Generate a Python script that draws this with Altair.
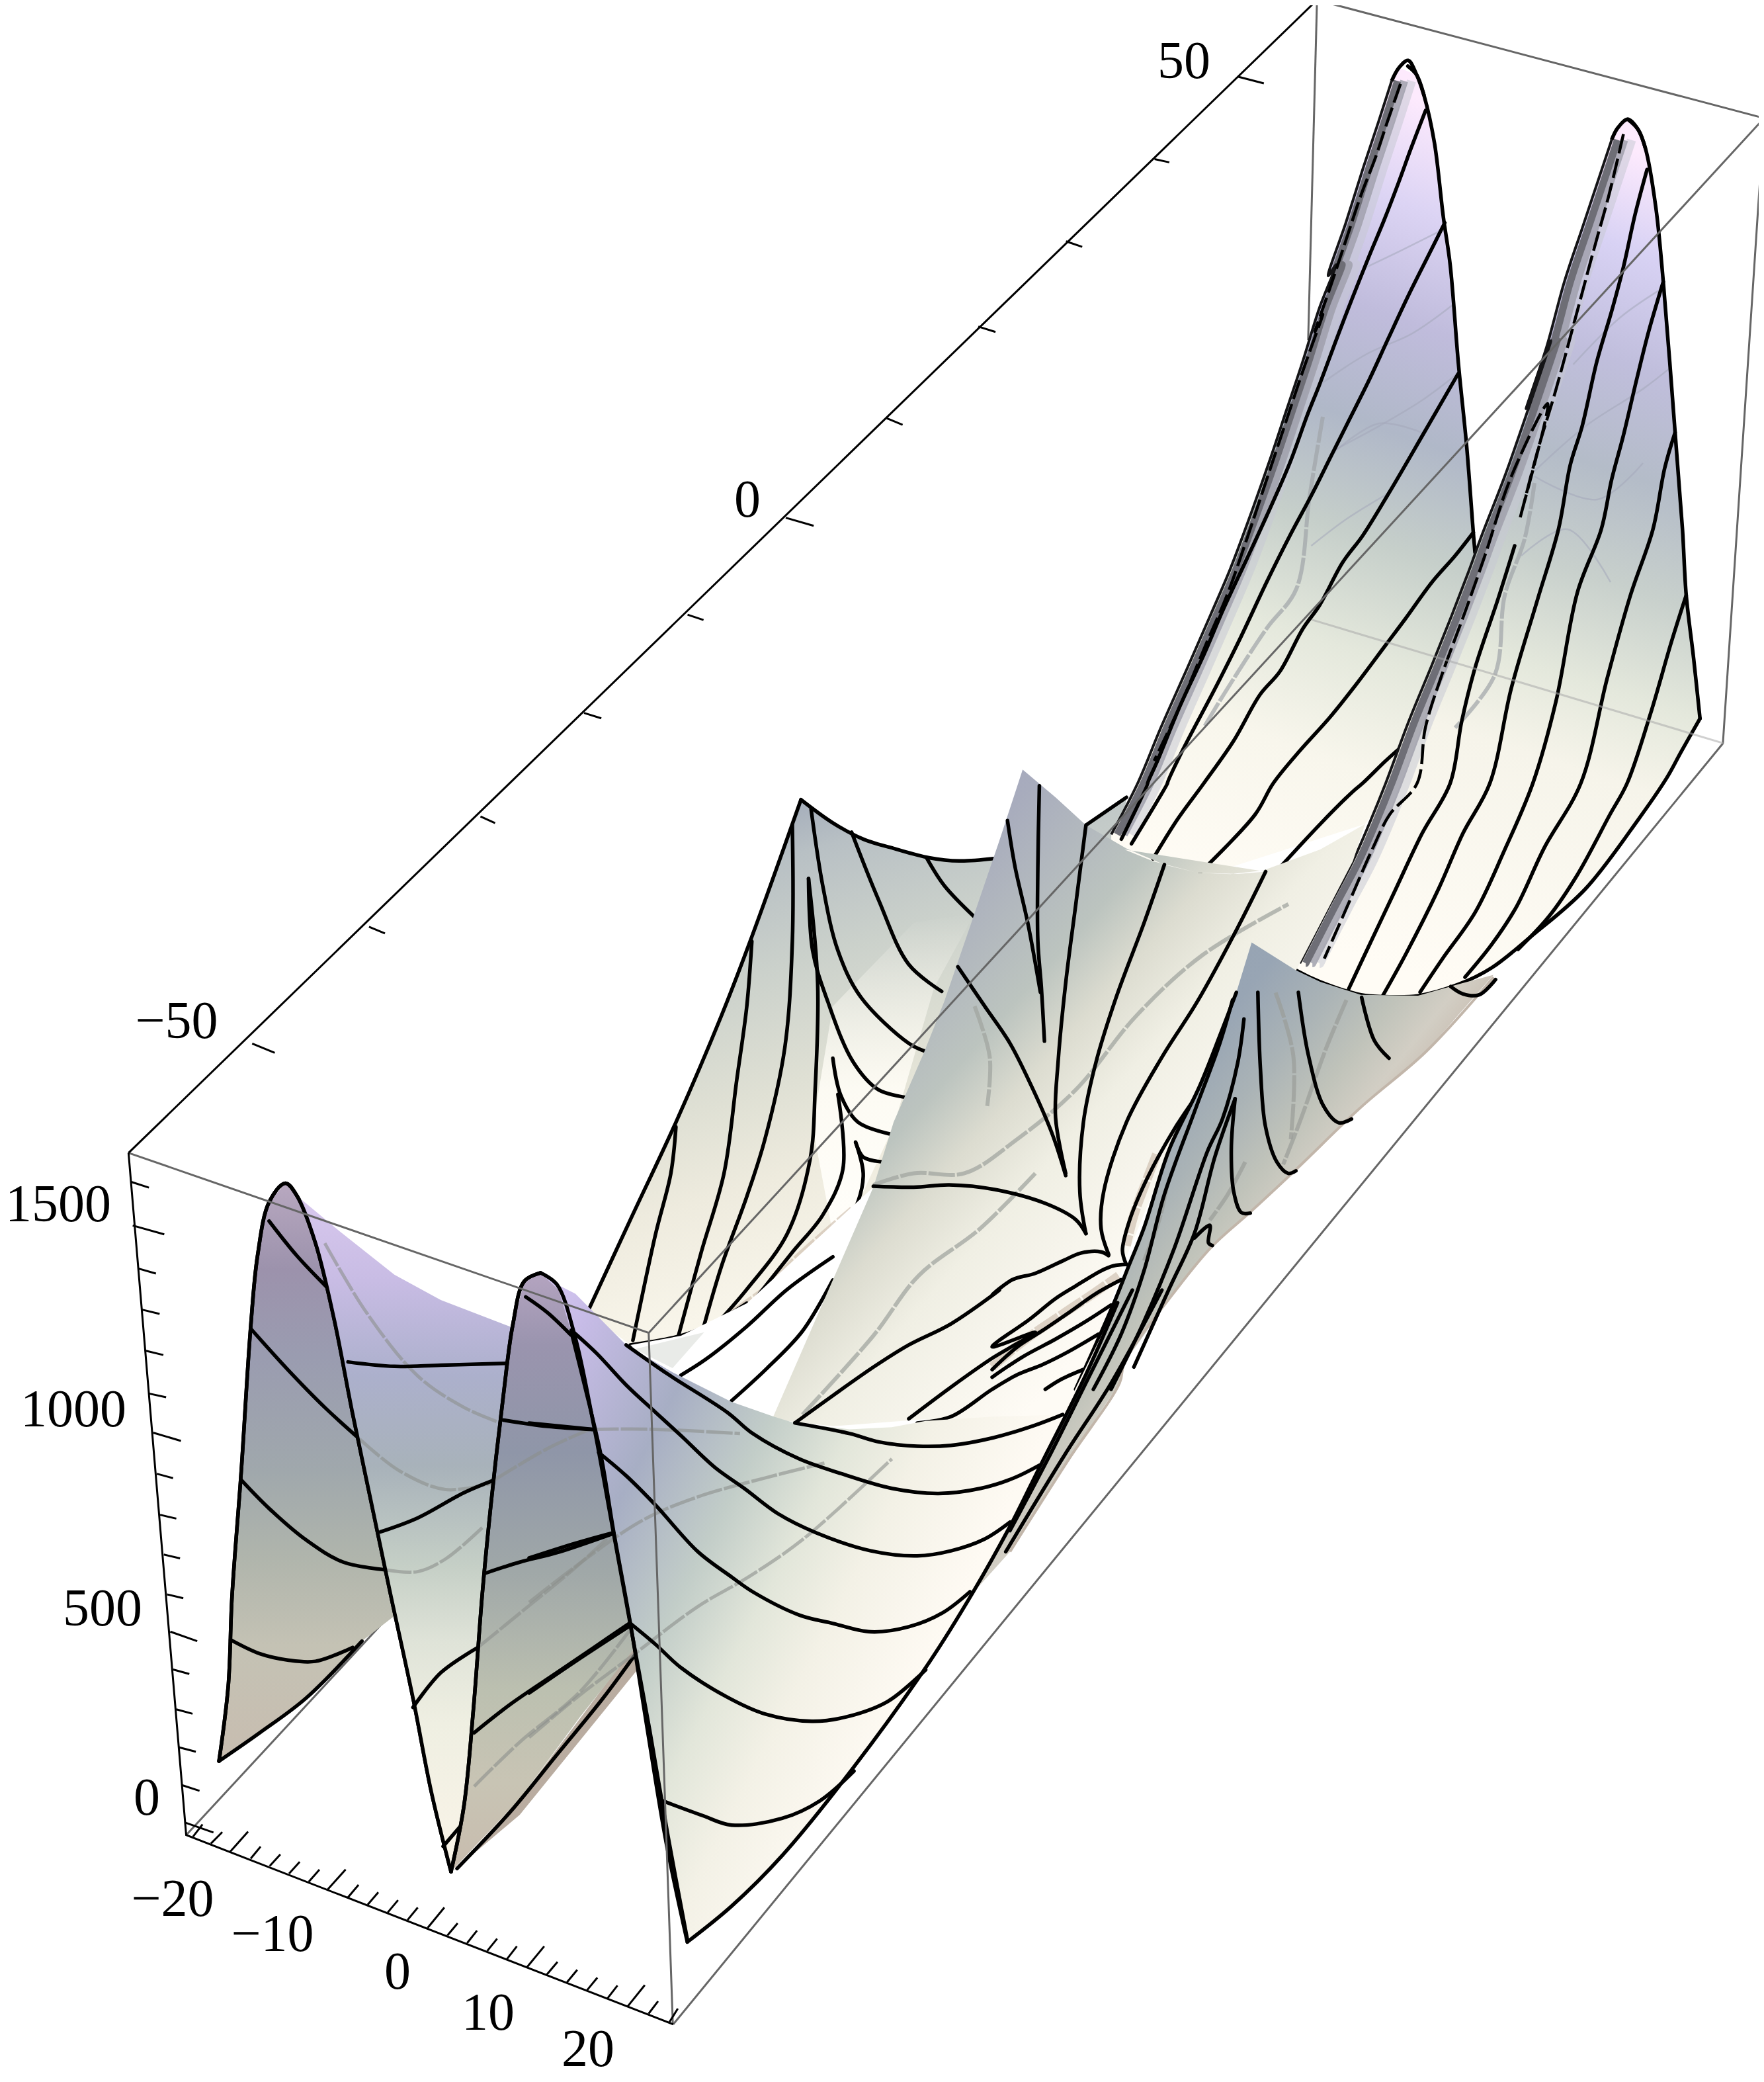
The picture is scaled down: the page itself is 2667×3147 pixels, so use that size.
import altair as alt

# crop windows the values were read in: x0, y0, w, h (each crop seen as 1568 x 1568)
CROPS = {
    "t": (0, 0, 3146.7, 3146.7),
    "z1": (0, 1650, 1100, 1497),
    "z2": (1500, 0, 1167, 1300),
    "z3": (800, 1100, 1200, 1100),
    "z4": (1700, 1000, 967, 1100),
    "z5": (200, 2600, 900, 547),
    "z6": (800, 1950, 1000, 1000),
    "z8": (1500, 1500, 600, 600),
    "za": (1700, 400, 784, 784),
    "zb": (1950, 100, 700, 700),
}


def P(*parts):
    out = []
    for crop, pts in parts:
        x0, y0, w, h = CROPS[crop]
        out += [(x0 + a * w / 1568, y0 + b * h / 1568) for a, b in pts]
    return out


# ---- tick labels
label_text = ["50", "0", "\u221250", "1500", "1000", "500", "0", "\u221220", "\u221210", "0", "10", "20"]
label_x = [1790, 1130, 267, 88, 111, 155, 222, 261, 412, 601, 738, 889]
label_y = [94, 757, 1545, 1822, 2132, 2433, 2719, 2872, 2925, 2982, 3044, 3099]

# ---- box
box_gray = [
    P(("z5", [(142, 498)]), ("t", [(988, 467)])),
    P(("z2", [(660, 0), (642, 620)])),
    P(("t", [(992, 0), (1329, 89), (1298, 560)])),
    P(("z5", [(1425, 1318)]), ("t", [(1298, 560)])),
]
box_front = [
    P(("z1", [(277, 97), (1398, 382), (1450, 1475)])),
    P(("z1", [(1398, 382)]), ("t", [(1329, 89)])),
]
box_faint = [P(("z2", [(650, 1130), (1485, 1355)]))]
axes_black = [
    P(("z1", [(277, 97)]), ("z2", [(660, 0)])),
    P(("z1", [(277, 97)]), ("z5", [(142, 498), (1425, 1318)])),
]
ticks_y = [
    ("z2", [(500, 140), (552, 152)]), ("z2", [(330, 290), (360, 296)]), ("z2", [(150, 440), (183, 450)]),
    ("t", [(737, 246), (750, 250)]), ("t", [(668, 315), (680, 320)]), ("t", [(592, 390), (613, 396)]),
    ("t", [(518, 463), (530, 467)]), ("t", [(440, 537), (453, 541)]), ("t", [(362, 615), (373, 620)]),
    ("t", [(278, 698), (290, 703)]), ("t", [(190, 786), (207, 793)]),
]
ticks_z = [
    [(283, 143), (321, 152)], [(286, 212), (354, 226)], [(298, 280), (336, 288)], [(305, 345), (344, 352)],
    [(313, 410), (352, 417)], [(321, 478), (358, 484)], [(330, 540), (390, 553)], [(338, 605), (373, 612)],
    [(345, 670), (380, 676)], [(353, 733), (388, 739)], [(360, 796), (395, 802)], [(367, 855), (425, 870)],
    [(373, 915), (408, 922)], [(380, 978), (415, 985)], [(385, 1038), (422, 1045)], [(392, 1098), (430, 1107)],
    [(398, 1157), (460, 1173)],
]
ticks_x = [
    [(160, 505), (185, 452)], [(207, 535), (237, 485)], [(258, 570), (305, 483)], [(312, 600), (338, 548)],
    [(362, 632), (390, 582)], [(413, 665), (441, 614)], [(465, 700), (493, 648)], [(515, 733), (562, 647)],
    [(568, 768), (596, 714)], [(620, 800), (648, 746)], [(673, 833), (700, 780)], [(725, 866), (752, 812)],
    [(778, 900), (822, 812)], [(830, 933), (857, 880)], [(882, 966), (908, 912)], [(935, 1000), (961, 947)],
    [(987, 1035), (1013, 980)], [(1040, 1070), (1085, 980)], [(1092, 1102), (1120, 1048)], [(1145, 1136), (1172, 1082)],
    [(1198, 1170), (1225, 1116)], [(1252, 1205), (1278, 1150)], [(1305, 1240), (1350, 1148)], [(1360, 1272), (1385, 1218)],
    [(1415, 1308), (1437, 1250)],
]
all_ticks = [P(t) for t in ticks_y] + [P(("z1", t)) for t in ticks_z] + [P(("z5", t)) for t in ticks_x]

# ---- ridge crests
crest_A = P(("zb", [(345, 50), (300, 190), (250, 340), (190, 530), (130, 710)]),
            ("za", [(640, 0), (590, 130), (540, 290), (490, 440), (440, 590), (380, 760), (320, 920), (260, 1060),
                    (190, 1220), (110, 1400), (40, 1568)]),
            ("z3", [(1150, 230)]))
crest_B = P(("zb", [(1090, 250), (1040, 400), (990, 550), (930, 730), (870, 950), (800, 1160)]),
            ("za", [(1290, 230), (1220, 440), (1150, 640), (1080, 820), (1040, 930), (990, 1060), (930, 1210),
                    (860, 1380), (790, 1568)]),
            ("z4", [(600, 350), (560, 430), (500, 530), (430, 650)]))
cap_A = P(("zb", [(345, 50), (370, 5)]), ("z2", [(845, 110)]), ("zb", [(430, 30), (455, 100)]))
cap_B = P(("zb", [(1090, 250), (1110, 210), (1145, 180), (1180, 215), (1205, 280)]))

# ---- surface patches
poly_C = P(("z3", [(537, 155), (600, 205), (660, 240), (720, 260), (790, 280), (850, 287), (918, 282), (1000, 265),
                   (1100, 210), (1180, 150), (1150, 400), (1000, 600), (800, 900), (640, 1030), (540, 1140), (430, 1240),
                   (370, 1280), (300, 1310), (200, 1330), (115, 1260), (200, 1060), (290, 850), (380, 620), (440, 450)]))
poly_C_light = P(("z3", [(880, 400), (800, 560), (720, 860), (660, 1000), (600, 1090), (560, 860), (600, 600), (760, 420)]))
poly_floor = P(("z3", [(200, 1330), (300, 1310), (430, 1240), (640, 1030), (680, 990), (600, 1190), (480, 1490), (300, 1420)]))
poly_A = crest_A + P(("z3", [(1150, 400)]),
                     ("z4", [(200, 460), (590, 350), (800, 100)]),
                     ("za", [(1060, 870), (1055, 810), (1035, 550), (1010, 300), (985, 0)]),
                     ("zb", [(520, 510), (490, 260), (455, 100), (430, 30), (370, 5)]))
poly_B = crest_B + P(("z4", [(420, 665), (480, 690), (580, 718), (640, 722), (720, 720), (820, 695), (900, 660), (1000, 590),
                             (1130, 490), (1260, 340), (1330, 250), (1410, 125)]),
                     ("z2", [(1425, 1200), (1410, 1085), (1390, 800), (1375, 640), (1365, 520), (1350, 400), (1333, 310), (1320, 245)]),
                     ("zb", [(1180, 215), (1145, 180), (1110, 210)]))
poly_D = P(("z3", [(975, 90), (1040, 150), (1100, 210), (1180, 260), (1255, 295), (1320, 312), (1400, 315), (1455, 310)]),
           ("z4", [(0, 405), (70, 430), (180, 455), (260, 458), (340, 450), (480, 405), (590, 350), (560, 430), (430, 650),
                   (280, 900), (170, 930)]),
           ("z3", [(1180, 1140), (1100, 1390), (1040, 1520), (780, 1490), (600, 1505), (480, 1490), (600, 1190), (680, 990),
                   (720, 850), (780, 700), (820, 590), (880, 400), (930, 240)]))
poly_E = P(("z4", [(312, 605), (420, 665), (480, 690), (580, 718), (720, 720), (820, 695), (905, 675), (740, 840), (580, 960),
                   (420, 1095), (310, 1185), (215, 1260), (130, 1350), (0, 1510)]),
           ("z6", [(1400, 220), (1280, 400), (1140, 620), (1050, 720), (1140, 560), (1210, 420), (1320, 200), (1395, 30)]),
           ("z8", [(480, 1230), (540, 1080), (600, 930), (700, 620), (820, 370), (900, 170), (965, 0)]))
poly_F1 = P(("z1", [(472, 1060), (492, 940), (500, 800), (520, 600), (540, 375), (555, 260), (580, 175), (615, 145), (640, 165),
                    (680, 240), (720, 360), (760, 510), (800, 650), (850, 830), (780, 870), (660, 960), (560, 1015)]))
poly_H = P(("z1", [(640, 165), (680, 240), (720, 360), (760, 510), (800, 650), (840, 790), (890, 960), (930, 1110), (972, 1235),
                   (1000, 1130), (1020, 980), (1040, 790), (1060, 640), (1085, 480), (1105, 370), (1110, 375), (950, 330),
                   (850, 290), (730, 220)]))
poly_F2 = P(("z1", [(972, 1235), (1000, 1130), (1020, 980), (1040, 790), (1060, 640), (1085, 480), (1105, 370), (1130, 300),
                    (1165, 287), (1200, 305), (1240, 390), (1280, 530), (1320, 690), (1360, 850), (1380, 870), (1250, 990), (1120, 1120)]))
poly_tan = P(("z1", [(975, 1235), (1120, 1120), (1375, 870), (1385, 905), (1120, 1145)]))
poly_G = P(("z1", [(1165, 287), (1200, 305), (1240, 320)]),
           ("z6", [(230, 130), (340, 195), (480, 265), (580, 300), (630, 315), (760, 330), (860, 325), (940, 310), (1100, 300), (1265, 295),
                   (1395, 30), (1320, 200), (1210, 420), (1140, 560), (1050, 720), (950, 880), (770, 1130), (600, 1340), (480, 1460),
                   (375, 1545), (325, 1310), (280, 1040), (240, 790), (200, 570), (170, 390), (130, 220), (100, 100), (70, 0)]))
poly_mesh = P(("z6", [(250, 140), (415, 100), (340, 185)]))

stops_C = [(0, "#9fa8b8"), (.12, "#b8c0c4"), (.3, "#cbd1cb"), (.5, "#dfe0d4"), (.65, "#eeebde"), (.85, "#f8f5ea"), (1, "#f6f2e6")]
stops_C_light = [(0, "rgba(255,253,246,0)"), (0.55, "rgba(255,253,246,0.9)"), (1, "rgba(255,254,250,1)")]
stops_A = [(0, "#fdeafd"), (.127, "#dcd4f4"), (.262, "#c0bcdc"), (.396, "#b0b8c8"), (.53, "#c6cfca"), (.664, "#e4e8dc"), (.8, "#f8f6ec"), (1, "#fffcf5")]
stops_B = [(0, "#fdeafd"), (.11, "#d8d2f4"), (.24, "#c0bedc"), (.365, "#b4bcc8"), (.49, "#c8d0cc"), (.61, "#e4e8dc"), (.71, "#f6f4ea"), (1, "#fffcf5")]
stops_D = [(0, "#9c9cc0"), (.23, "#a8acbd"), (.38, "#bcc4bf"), (.45, "#dcdcd0"), (.53, "#f0efe4"), (.7, "#fefbf5"), (1, "#fefbf4")]
stops_E = [(0, "#8f9cb0"), (.3, "#98a5b4"), (.38, "#aab3b6"), (.45, "#c0c3ba"), (.5, "#d2cec4"), (.55, "#c8bcb0"), (1, "#c8bcb0")]
stops_F1 = [(0, "#b8a8c0"), (.15, "#9c92ac"), (.3, "#9a9cb0"), (.5, "#a0a8ac"), (.65, "#b0b5ac"), (.8, "#c4c2b4"), (1, "#c8bdb0")]
stops_H = [(0, "#d8c8ee"), (.126, "#c8bce4"), (.266, "#acb0cc"), (.4, "#a8b2ba"), (.547, "#c5cfc6"), (.66, "#dfe3d8"), (.78, "#efefe2"), (1, "#faf4e8")]
stops_F2 = [(0, "#b4a4c0"), (.12, "#9a94ae"), (.3, "#8f96a8"), (.5, "#a0a8a8"), (.7, "#bcc0b0"), (.85, "#c8c4b4"), (1, "#c8bcae")]
stops_G = [(0, "#d6c8f2"), (.08, "#c8bce8"), (.25, "#a7aec4"), (.39, "#c2cdc8"), (.5, "#e2e6da"), (.6, "#f3f1e6"), (.75, "#fefaf3"), (1, "#fefaf3")]

# ---- contour lines, patch by patch
lines_C = [
    P(("z3", [(537, 155), (600, 205), (660, 240), (720, 260), (790, 280), (850, 287), (918, 282)])),
    P(("z3", [(1100, 210), (1180, 150)])),
    P(("z3", [(537, 155), (440, 450), (380, 620), (290, 850), (200, 1060), (115, 1260)])),
    P(("z3", [(290, 860), (280, 960), (250, 1090), (205, 1320)])),
    P(("z3", [(440, 460), (430, 600), (410, 760), (385, 960), (340, 1130), (295, 1310)])),
    P(("z3", [(520, 210), (520, 460), (505, 690), (465, 890), (430, 1010), (380, 1160), (345, 1290)])),
    P(("z3", [(552, 325), (570, 550), (565, 780), (555, 930), (510, 1090), (430, 1210), (370, 1285)])),
    P(("z3", [(557, 175), (580, 340), (610, 480), (655, 580), (750, 680), (782, 697)])),
    P(("z3", [(552, 325), (560, 480), (590, 590), (640, 720), (690, 780), (748, 797)])),
    P(("z3", [(637, 225), (690, 370), (750, 510), (815, 568)])),
    P(("z3", [(785, 280), (820, 340), (880, 408)])),
    P(("z3", [(600, 712), (615, 790), (650, 850), (720, 877)])),
    P(("z3", [(645, 893), (660, 925), (695, 935)])),
    P(("z3", [(645, 893), (660, 960), (650, 1020), (620, 1080), (560, 1130), (480, 1210)])),
    P(("z3", [(610, 790), (620, 950), (580, 1050), (520, 1130), (440, 1240)])),
    P(("z3", [(200, 1330), (300, 1310), (370, 1280), (430, 1240)])),
    P(("z3", [(300, 1395), (350, 1360), (430, 1290), (510, 1210), (600, 1140)])),
    P(("z3", [(400, 1450), (470, 1380), (540, 1300), (600, 1190)])),
]
folds_C = [P(("z3", [(400, 1265), (470, 1210), (540, 1135), (640, 1040)]))]
lines_A = [
    P(("zb", [(400, 0), (430, 30), (455, 100), (490, 260), (520, 510)]),
      ("za", [(985, 0), (1010, 300), (1035, 550), (1055, 810), (1060, 870)])),
    P(("zb", [(460, 150), (410, 280), (370, 390), (320, 520), (270, 640), (210, 790), (160, 920), (100, 1080), (60, 1180)]),
      ("za", [(500, 600), (430, 760), (370, 890), (300, 1040), (240, 1180), (170, 1330), (100, 1500), (70, 1568)]),
      ("z3", [(1222, 120), (1170, 240)])),
    P(("zb", [(525, 530), (470, 640), (400, 780), (330, 930), (270, 1060), (200, 1200), (140, 1320), (75, 1450)]),
      ("za", [(500, 820), (430, 960), (350, 1130), (280, 1270), (170, 1480), (130, 1568)]),
      ("z3", [(1261, 120), (1190, 250)])),
    P(("za", [(1009, 330), (905, 510), (800, 690), (720, 820), (660, 900), (590, 1030), (540, 1100), (470, 1230), (410, 1300), (330, 1440), (240, 1568)]),
      ("z4", [(130, 340), (70, 425)])),
    P(("za", [(1055, 810), (1000, 880), (930, 960), (850, 1070), (790, 1150), (700, 1270), (620, 1370), (530, 1470), (450, 1568)]),
      ("z4", [(320, 330), (185, 455)])),
    P(("za", [(835, 1460), (790, 1500), (720, 1568)]),
      ("z4", [(560, 280), (480, 350), (385, 440)])),
]
dash_A = [P(("zb", [(375, 60), (330, 190), (290, 310), (240, 440), (190, 590), (140, 740), (85, 900)]),
            ("za", [(600, 150), (540, 320), (480, 500), (420, 680), (370, 830), (310, 1000), (250, 1140), (170, 1330), (90, 1500)]))]
lines_B = [
    P(("zb", [(1145, 180), (1180, 215), (1205, 280), (1240, 480), (1265, 730), (1305, 1240), (1330, 1568)]),
      ("z2", [(1410, 1085), (1425, 1200), (1438, 1310)])),
    P(("z2", [(1438, 1310), (1400, 1370)]),
      ("z4", [(1330, 250), (1260, 340), (1130, 490), (1000, 590), (900, 660), (820, 695), (720, 720), (640, 722), (580, 718), (480, 690), (420, 665), (312, 605)])),
    P(("za", [(1180, 850), (1130, 1010), (1060, 1220), (1020, 1380), (985, 1568)]),
      ("z4", [(730, 370), (660, 500), (590, 630), (550, 705)])),
    P(("zb", [(1210, 350), (1170, 500), (1130, 680), (1090, 830), (1040, 1000), (990, 1220), (950, 1350), (910, 1568)]),
      ("za", [(1250, 1010), (1170, 1280), (1105, 1568)]),
      ("z4", [(830, 370), (770, 490), (690, 630), (632, 722)])),
    P(("zb", [(1265, 730), (1215, 900), (1175, 1060), (1130, 1250), (1090, 1400), (1055, 1568)]),
      ("za", [(1370, 990), (1305, 1320), (1235, 1568)]),
      ("z4", [(930, 410), (860, 540), (780, 640), (725, 712)])),
    P(("zb", [(1305, 1240), (1270, 1360), (1230, 1568)]),
      ("za", [(1530, 1000), (1460, 1250), (1380, 1568)]),
      ("z4", [(1030, 400), (960, 530), (900, 610), (835, 680)])),
    P(("z2", [(1410, 1085), (1380, 1170)]),
      ("za", [(1590, 1360), (1520, 1568)]),
      ("z4", [(1190, 330), (1110, 460), (1040, 550), (965, 620)])),
]
dash_B = [P(("zb", [(1130, 230), (1080, 440), (1030, 620), (960, 880), (900, 1100), (840, 1300), (780, 1530)]),
            ("za", [(1280, 420), (1170, 640), (1090, 880), (1030, 1050), (960, 1240), (910, 1400), (885, 1568)]),
            ("z4", [(650, 330), (610, 400), (550, 520), (490, 640)]))]
mesh_AB = [
    P(("zb", [(260, 680), (375, 625), (525, 550)])),
    P(("zb", [(100, 1080), (260, 975), (415, 905), (550, 810)])),
    P(("zb", [(150, 1300), (300, 1220), (450, 1130), (570, 1040)])),
    P(("za", [(630, 570), (770, 480), (905, 510)])),
    P(("za", [(565, 850), (670, 770), (800, 690)])),
    P(("zb", [(960, 1010), (1120, 850), (1265, 750)])),
    P(("zb", [(830, 1370), (1000, 1220), (1200, 1090), (1290, 1020)])),
    P(("za", [(1240, 640), (1430, 710), (1568, 600)])),
    P(("za", [(1200, 880), (1340, 800), (1470, 960)])),
]
gray_A = [P(("za", [(600, 460), (560, 700), (520, 980), (430, 1100), (300, 1300), (240, 1400)]))]
gray_B = [P(("za", [(1240, 660), (1210, 830), (1150, 1000), (1120, 1240), (1000, 1400)]))]
lines_D = [
    P(("z3", [(1008, 125), (1005, 300), (1005, 460), (1012, 560), (1018, 675)])),
    P(("z3", [(945, 200), (960, 300), (985, 420), (1010, 570)])),
    P(("z3", [(1100, 210), (1080, 380), (1060, 550), (1045, 720), (1040, 840), (1060, 960)])),
    P(("z3", [(847, 515), (900, 600), (950, 680), (1000, 790), (1035, 880), (1060, 965)])),
    P(("z3", [(1255, 295), (1215, 420), (1160, 580), (1120, 720), (1095, 850), (1088, 1000), (1100, 1090)])),
    P(("z3", [(1455, 310), (1400, 430), (1320, 590), (1250, 710), (1180, 850), (1135, 1000), (1130, 1080), (1145, 1135)])),
    P(("z3", [(680, 988), (760, 990), (830, 985), (920, 995), (1020, 1025), (1080, 1060), (1100, 1090)])),
    P(("z8", [(800, 420), (720, 540), (610, 740), (540, 910), (515, 1020), (530, 1075)])),
    P(("z8", [(460, 1040), (430, 1025), (350, 1030), (280, 1060), (170, 1110), (80, 1135), (0, 1195)]),
      ("z6", [(1115, 0), (1000, 80), (900, 130), (820, 180), (720, 250), (630, 315)])),
    P(("z8", [(530, 1075), (480, 1080), (430, 1100), (330, 1160), (250, 1210), (150, 1290), (0, 1400)]),
      ("z6", [(1200, 100), (1100, 160), (1000, 230), (900, 305)])),
    P(("z8", [(510, 1135), (410, 1190), (310, 1260), (200, 1335), (100, 1400), (0, 1490)])),
    P(("z8", [(470, 1235), (370, 1300), (250, 1370), (120, 1440), (0, 1520)])),
    P(("z8", [(420, 1350), (300, 1420), (200, 1470), (100, 1510), (0, 1568)]),
      ("z6", [(1000, 300), (920, 315)])),
    P(("z8", [(360, 1490), (270, 1530), (210, 1568)])),
]
folds_D = [
    P(("z8", [(0, 1480), (120, 1380), (280, 1270), (400, 1190), (500, 1120)])),
    P(("z8", [(650, 640), (600, 770), (560, 880), (530, 1000)])),
]
lines_E = [
    P(("z8", [(965, 0), (900, 170), (820, 370), (700, 620), (600, 930), (540, 1080), (480, 1230), (330, 1568)])),
    P(("z8", [(950, 30), (900, 200), (800, 470), (680, 800), (600, 1100), (510, 1350), (400, 1568)])),
    P(("z8", [(995, 105), (970, 280), (910, 500), (850, 630), (720, 1010), (600, 1300), (470, 1568)])),
    P(("z8", [(960, 420), (880, 650), (800, 950), (700, 1170), (560, 1480)])),
    P(("z8", [(960, 420), (945, 620), (955, 790), (985, 870), (1020, 872)])),
    P(("z8", [(1050, 0), (1060, 300), (1080, 530), (1125, 670), (1170, 715), (1200, 705)])),
    P(("z8", [(1210, 0), (1250, 250), (1310, 450), (1370, 515), (1420, 500)])),
    P(("z8", [(1460, 20), (1510, 190), (1568, 260)])),
    P(("z8", [(800, 970), (860, 920), (855, 990), (870, 1000)])),
    P(("z4", [(800, 700), (830, 716), (870, 718), (910, 685)])),
    P(("z6", [(1430, 0), (1330, 200), (1230, 400), (1140, 570)])),
    P(("z6", [(1500, 0), (1380, 220), (1270, 390), (1130, 620)])),
]
edge_E = [P(("z4", [(905, 680), (740, 840), (580, 960), (420, 1095), (310, 1185), (215, 1260), (130, 1350), (0, 1510)]),
            ("z6", [(1400, 220), (1280, 400), (1140, 620)]))]
lines_F1 = [
    P(("z1", [(472, 1060), (492, 940), (500, 800), (520, 600), (540, 375), (555, 260), (580, 175), (615, 145), (640, 165),
              (680, 240), (720, 360), (760, 510), (800, 650), (840, 790), (890, 960), (930, 1110), (972, 1235)])),
    P(("z1", [(472, 1060), (560, 1015), (660, 960), (780, 870)])),
    P(("z1", [(580, 205), (640, 260), (705, 310)])),
    P(("z1", [(540, 375), (620, 440), (700, 500), (775, 550)])),
    P(("z1", [(520, 615), (580, 660), (660, 710), (740, 745), (830, 757)])),
    P(("z1", [(497, 868), (560, 890), (620, 900), (680, 902), (760, 880)])),
]
lines_H = [
    P(("z1", [(750, 428), (850, 435), (950, 433), (1100, 430)])),
    P(("z1", [(820, 697), (900, 675), (1000, 635), (1065, 615)])),
    P(("z1", [(890, 975), (950, 920), (1030, 880)])),
]
lines_F2 = [
    P(("z1", [(972, 1235), (1000, 1130), (1020, 980), (1040, 790), (1060, 640), (1085, 480), (1105, 370), (1130, 300), (1165, 287)])),
    P(("z1", [(1133, 325), (1180, 350), (1230, 385)])),
    P(("z1", [(1085, 520), (1180, 530), (1280, 535)])),
    P(("z1", [(1048, 762), (1120, 745), (1200, 730), (1320, 700)])),
    P(("z1", [(1022, 1015), (1100, 970), (1200, 920), (1280, 880), (1360, 840)])),
    P(("z1", [(955, 1195), (990, 1165)])),
    P(("z1", [(985, 1230), (1100, 1140), (1200, 1050), (1300, 960), (1380, 880)])),
]
lines_G = [
    P(("z1", [(1165, 287), (1200, 305), (1240, 390), (1280, 530), (1320, 690), (1360, 850), (1400, 1010), (1440, 1180), (1482, 1345)])),
    P(("z6", [(100, 100), (130, 220), (170, 390), (200, 570), (240, 790), (280, 1040), (325, 1310), (375, 1545)])),
    P(("z6", [(375, 1545), (480, 1460), (600, 1340), (770, 1130), (950, 880), (1050, 720), (1140, 560), (1210, 420), (1320, 200), (1395, 30)])),
    P(("z6", [(100, 95), (160, 150), (230, 225), (300, 290), (360, 345), (440, 420), (510, 470), (590, 530), (680, 575), (810, 618), (920, 630), (1000, 618), (1080, 590), (1140, 550)])),
    P(("z6", [(230, 130), (330, 200), (470, 290), (530, 340), (640, 400), (740, 435), (860, 470), (970, 482), (1070, 470), (1150, 445), (1210, 415)])),
    P(("z6", [(630, 315), (760, 340), (830, 360), (920, 370), (1000, 368), (1100, 350), (1200, 320), (1265, 295)])),
    P(("z6", [(165, 385), (230, 440), (300, 510), (400, 620), (480, 680), (530, 715), (640, 770), (720, 790), (810, 810), (900, 798), (980, 765), (1045, 715)])),
    P(("z6", [(240, 790), (300, 840), (360, 895), (470, 965), (560, 1005), (670, 1022), (750, 1012), (850, 975), (940, 900)])),
    P(("z6", [(315, 1210), (410, 1245), (480, 1268), (600, 1252), (690, 1210), (770, 1140)])),
    P(("z6", [(0, 315), (150, 330)])),
    P(("z6", [(0, 635), (110, 600), (200, 575)])),
    P(("z6", [(0, 955), (110, 880), (240, 795)])),
]
gray_D = [
    P(("z3", [(680, 985), (760, 960), (860, 960), (960, 890), (1080, 780), (1200, 620), (1330, 490), (1500, 380)])),
    P(("z3", [(540, 1480), (680, 1310), (770, 1180), (890, 1080), (1000, 960)])),
    P(("z3", [(880, 600), (910, 710), (905, 815)])),
]
gray_E = [
    P(("z8", [(1120, 1), (1190, 250), (1180, 580)])),
    P(("z8", [(1400, 30), (1320, 220), (1220, 500), (1150, 680)])),
    P(("z8", [(690, 770), (660, 900), (600, 1060)])),
    P(("z8", [(1000, 670), (930, 800), (860, 900)])),
]
gray_front = [
    P(("z1", [(700, 240), (790, 350), (900, 450), (1000, 500), (1080, 525)])),
    P(("z1", [(775, 550), (860, 600), (960, 630), (1060, 620)])),
    P(("z1", [(830, 757), (900, 760), (960, 740), (1040, 690)])),
    P(("z1", [(1065, 615), (1180, 565), (1270, 535)])),
    P(("z1", [(1030, 880), (1130, 820), (1230, 760), (1320, 700)])),
    P(("z1", [(1022, 1100), (1120, 1030), (1250, 950), (1360, 850)])),
    P(("z6", [(150, 330), (300, 330), (500, 340)])),
    P(("z6", [(0, 740), (130, 640), (270, 545), (400, 490), (560, 445), (700, 410)])),
    P(("z6", [(0, 1060), (120, 960), (240, 870), (400, 750), (520, 680), (650, 590), (860, 400)])),
]

X = alt.X("x:Q", scale=alt.Scale(domain=[8, 2659], nice=False, zero=False), axis=None)
Y = alt.Y("y:Q", scale=alt.Scale(domain=[3139, 8], nice=False, zero=False), axis=None)


def rows(curves):
    return [{"id": c, "i": i, "x": x, "y": y} for c, pts in enumerate(curves) for i, (x, y) in enumerate(pts)]


def lines(curves, **mark):
    return alt.Chart(alt.Data(values=rows(curves))).mark_line(**mark).encode(
        x=X, y=Y, detail="id:N", order="i:Q")


def patch(points, stops, x1=0.5, y1=0.0, x2=0.5, y2=1.0):
    fill = {"gradient": "linear", "x1": x1, "y1": y1, "x2": x2, "y2": y2,
            "stops": [{"offset": o, "color": c} for o, c in stops]}
    return lines([points], fill=fill, strokeWidth=0)


def flat(points, color):
    return lines([points], fill=color, strokeWidth=0)


def black(curves, w=5.5):
    return lines(curves, stroke="#000000", strokeWidth=w, interpolate="catmull-rom", strokeCap="round", strokeJoin="round")


def ghost(curves, color="#8c908c", w=5, op=0.6):
    return lines(curves, stroke=color, strokeWidth=w, opacity=op, interpolate="catmull-rom", strokeDash=[40, 3])


def mesh(curves):
    return lines(curves, stroke="#a4a8ba", strokeWidth=2.5, opacity=0.55, interpolate="catmull-rom")


def band(crest):
    light = [[(x + 30, y) for x, y in crest]]
    mid = [[(x + 19, y) for x, y in crest]]
    dark = [[(x + 9, y) for x, y in crest]]
    return [
        lines(light, stroke="#c6c8d4", strokeWidth=14, opacity=0.55, interpolate="catmull-rom"),
        lines(mid, stroke="#a0a0ac", strokeWidth=12, opacity=0.85, interpolate="catmull-rom"),
        lines(dark, stroke="#6e6e76", strokeWidth=11, interpolate="catmull-rom"),
        lines([crest], stroke="#141416", strokeWidth=4, interpolate="catmull-rom"),
    ]


labels = alt.Chart(alt.Data(values=[{"t": t, "x": x, "y": y} for t, x, y in zip(label_text, label_x, label_y)])).mark_text(
    font="Liberation Serif", fontSize=80, align="center", baseline="middle", color="#000000"
).encode(x=X, y=Y, text="t:N")

layers = [
    lines(box_gray, stroke="#666666", strokeWidth=3),
    patch(poly_C, stops_C, 0.3, 0, 0.6, 1),
    patch(poly_C_light, stops_C_light),
    ghost(folds_C, "#c9b9a9", 14, 0.6),
    black(lines_C),
    flat(poly_floor, "#ffffff"),
    black(lines_C[-2:]),
    patch(poly_A, stops_A, 0.6, 0, 0.45, 1),
    mesh(mesh_AB[:5]),
    ghost(gray_A, "#a0a4a8", 6, 0.7),
    *band(crest_A),
    lines([cap_A], stroke="#000000", strokeWidth=5.5, interpolate="catmull-rom"),
    black(lines_A),
    lines(dash_A, stroke="#000000", strokeWidth=4.5, strokeDash=[30, 8], interpolate="catmull-rom"),
    patch(poly_B, stops_B, 0.6, 0, 0.45, 1),
    mesh(mesh_AB[5:]),
    ghost(gray_B, "#a0a4a8", 6, 0.7),
    *band(crest_B),
    lines([cap_B], stroke="#000000", strokeWidth=5.5, interpolate="catmull-rom"),
    black(lines_B),
    lines(dash_B, stroke="#000000", strokeWidth=4.5, strokeDash=[30, 8], interpolate="catmull-rom"),
    lines(box_faint, stroke="#a9a9a9", strokeWidth=3, opacity=0.55),
    patch(poly_D, stops_D, 0, 0, 1, 1),
    ghost(gray_D, "#a2a6a0", 6, 0.75),
    ghost(folds_D, "#c9b9a9", 14, 0.6),
    black(lines_D),
    patch(poly_E, stops_E, 0, 0, 1, 1),
    ghost(gray_E, "#9a9d98", 6, 0.7),
    lines(edge_E, stroke="#c2b6aa", strokeWidth=4, interpolate="catmull-rom"),
    black(lines_E),
    patch(poly_F1, stops_F1),
    black(lines_F1),
    patch(poly_H, stops_H),
    ghost(gray_front[:3]),
    black(lines_H),
    flat(poly_tan, "#b9aca0"),
    patch(poly_F2, stops_F2),
    ghost(gray_front[3:6]),
    black(lines_F2),
    patch(poly_G, stops_G, 0, 0, 1, 0.6),
    flat(poly_mesh, "#e9ebe8"),
    ghost(gray_front[6:]),
    black(lines_G),
    black(lines_F1[:1]),
    black(lines_F2[:1]),
    lines(box_front, stroke="#666666", strokeWidth=3),
    lines(axes_black, stroke="#000000", strokeWidth=3),
    lines(all_ticks, stroke="#000000", strokeWidth=3),
    labels,
]

chart = alt.layer(*layers).properties(
    width=2651, height=3131, padding=0, autosize="none", background="#ffffff"
).configure_view(stroke=None)

chart.save("out.html", embed_options={"renderer": "svg", "actions": False})
